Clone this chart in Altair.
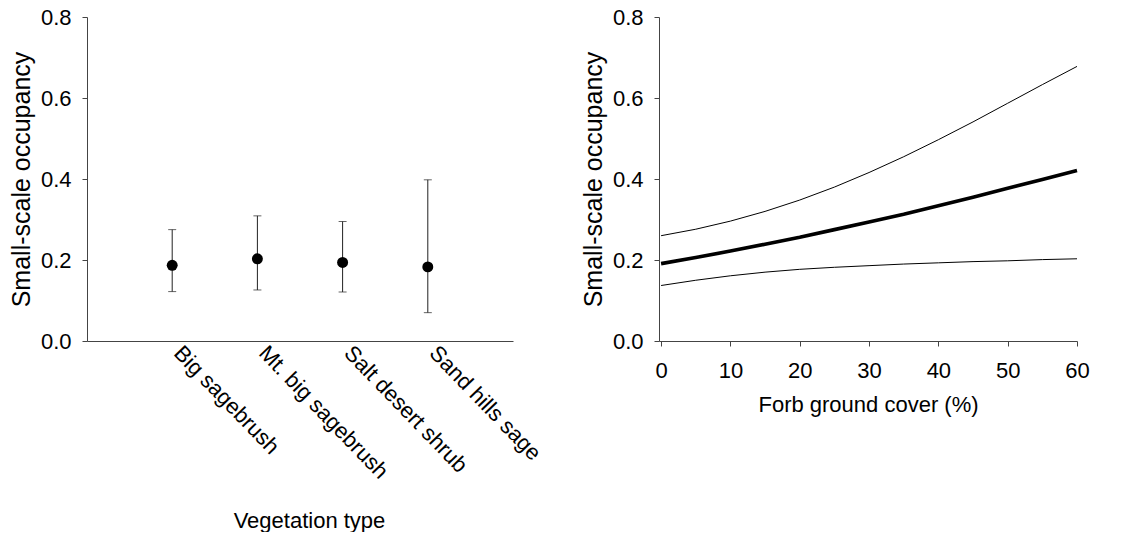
import altair as alt
import pandas as pd

# Occupancy by vegetation type (estimate with 95% interval)
veg_types = ["Big sagebrush", "Mt. big sagebrush", "Salt desert shrub", "Sand hills sage"]
veg_mean = [0.187, 0.203, 0.194, 0.183]
veg_lower = [0.122, 0.126, 0.121, 0.070]
veg_upper = [0.275, 0.309, 0.295, 0.398]

# Occupancy against forb ground cover (fit with 95% band)
forb_cover = [0, 5, 10, 15, 20, 25, 30, 35, 40, 45, 50, 55, 60]
occ_mean = [0.191, 0.206, 0.222, 0.239, 0.256, 0.275, 0.294, 0.313, 0.334, 0.355, 0.377, 0.399, 0.421]
occ_lower = [0.137, 0.150, 0.161, 0.170, 0.177, 0.182, 0.186, 0.190, 0.193, 0.196, 0.198, 0.201, 0.203]
occ_upper = [0.260, 0.276, 0.296, 0.320, 0.348, 0.380, 0.416, 0.455, 0.497, 0.541, 0.587, 0.633, 0.678]

y_ticks = [0.0, 0.2, 0.4, 0.6, 0.8]
x_ticks = [0, 10, 20, 30, 40, 50, 60]

FONT = "Liberation Sans"

veg = pd.DataFrame({"type": veg_types, "mean": veg_mean,
                    "lower": veg_lower, "upper": veg_upper})
forb = pd.DataFrame({"cover": forb_cover, "mean": occ_mean,
                     "lower": occ_lower, "upper": occ_upper})

y_axis = alt.Axis(values=y_ticks, format=".1f", title="Small-scale occupancy",
                  tickSize=5, labelPadding=11, titlePadding=6,
                  labelFontSize=22, titleFontSize=25)
y_scale = alt.Scale(domain=[0, 0.8], nice=False)

# Left panel: point estimates with capped error bars
x_veg = alt.X("type:N", sort=veg_types,
              scale=alt.Scale(type="point", padding=1),
              axis=alt.Axis(title="Vegetation type", labelAngle=46,
                            labelAlign="left", labelBaseline="middle",
                            labelFontSize=22, titleFontSize=22,
                            ticks=False, labelPadding=8, labelOffset=5,
                            titlePadding=28, titleX=222))

base = alt.Chart(veg).encode(x=x_veg)
bars = base.mark_rule(color="#222", strokeWidth=1).encode(
    y=alt.Y("lower:Q", scale=y_scale, axis=y_axis), y2="upper:Q")
cap_lo = base.mark_tick(color="#222", size=8, thickness=1).encode(y="lower:Q")
cap_hi = base.mark_tick(color="#222", size=8, thickness=1).encode(y="upper:Q")
dots = base.mark_circle(color="black", size=120, opacity=1).encode(y="mean:Q")
left = alt.layer(bars, cap_lo, cap_hi, dots).properties(width=426, height=324)

# Right panel: fitted curve with confidence limits
x_forb = alt.X("cover:Q", scale=alt.Scale(domain=[-0.3, 60], nice=False),
               axis=alt.Axis(values=x_ticks, title="Forb ground cover (%)",
                             tickSize=5, labelPadding=14, titlePadding=13,
                             labelFontSize=22, titleFontSize=22))
rbase = alt.Chart(forb).encode(x=x_forb)
up = rbase.mark_line(color="black", strokeWidth=1).encode(
    y=alt.Y("upper:Q", scale=y_scale, axis=y_axis))
lo = rbase.mark_line(color="black", strokeWidth=1).encode(y="lower:Q")
mid = rbase.mark_line(color="black", strokeWidth=3.6).encode(y="mean:Q")
right = alt.layer(up, lo, mid).properties(width=418, height=324)

chart = alt.hconcat(left, right, spacing=146, bounds="flush").properties(
    padding={"left": 9, "top": 6, "right": 5, "bottom": 0}
).configure_view(stroke=None).configure_axis(
    grid=False, domainColor="#444", tickColor="#444",
    labelFont=FONT, titleFont=FONT, labelColor="black", titleColor="black",
    titleFontWeight="normal", labelFlush=False, labelOverlap=False
)

chart.save("out.html", embed_options={"renderer": "svg", "actions": False})
